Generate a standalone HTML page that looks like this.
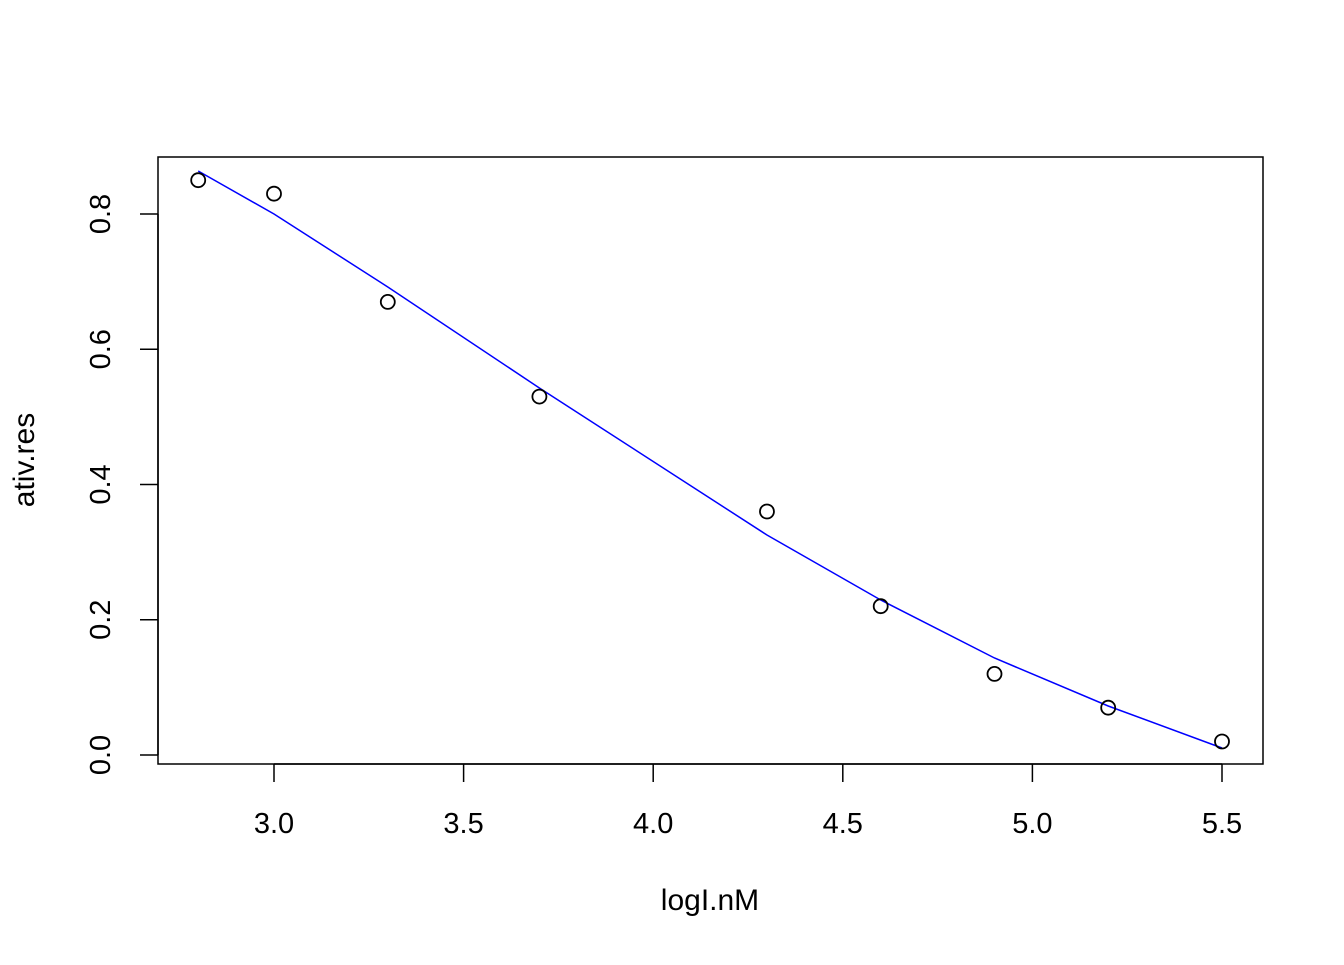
<!DOCTYPE html>
<html><head><meta charset="utf-8"><style>html,body{margin:0;padding:0;background:#fff}</style></head>
<body>
<svg width="1344" height="960" xmlns="http://www.w3.org/2000/svg" font-family="Liberation Sans, Arial, sans-serif">
<rect x="0" y="0" width="1344" height="960" fill="#fff"/>
<rect x="158" y="157" width="1105" height="607" fill="none" stroke="#000" stroke-width="1.5"/>
<g stroke="#000" stroke-width="1.5">
<line x1="274" y1="764" x2="1222" y2="764"/>
<line x1="274" y1="764" x2="274" y2="782"/>
<line x1="463.6" y1="764" x2="463.6" y2="782"/>
<line x1="653.2" y1="764" x2="653.2" y2="782"/>
<line x1="842.8" y1="764" x2="842.8" y2="782"/>
<line x1="1032.4" y1="764" x2="1032.4" y2="782"/>
<line x1="1222" y1="764" x2="1222" y2="782"/>
<line x1="158" y1="755" x2="158" y2="214"/>
<line x1="140" y1="755" x2="158" y2="755"/>
<line x1="140" y1="619.75" x2="158" y2="619.75"/>
<line x1="140" y1="484.5" x2="158" y2="484.5"/>
<line x1="140" y1="349.25" x2="158" y2="349.25"/>
<line x1="140" y1="214" x2="158" y2="214"/>
</g>
<g font-size="29" text-anchor="middle" fill="#000">
<text x="274" y="833">3.0</text>
<text x="463.6" y="833">3.5</text>
<text x="653.2" y="833">4.0</text>
<text x="842.8" y="833">4.5</text>
<text x="1032.4" y="833">5.0</text>
<text x="1222" y="833">5.5</text>
<text transform="translate(110,755) rotate(-90)">0.0</text>
<text transform="translate(110,619.75) rotate(-90)">0.2</text>
<text transform="translate(110,484.5) rotate(-90)">0.4</text>
<text transform="translate(110,349.25) rotate(-90)">0.6</text>
<text transform="translate(110,214) rotate(-90)">0.8</text>
</g>
<g font-size="30" text-anchor="middle" fill="#000">
<text x="710" y="910">logI.nM</text>
<text transform="translate(34,460) rotate(-90)">ativ.res</text>
</g>
<polyline fill="none" stroke="#0000ff" stroke-width="1.5" points="198.2,171 274,214 387.8,287 539.4,388 766.96,535 880.7,600 994.5,658 1108.2,706 1222,748"/>
<g fill="none" stroke="#000" stroke-width="1.8">
<circle cx="198.2" cy="180.2" r="7"/>
<circle cx="274" cy="193.7" r="7"/>
<circle cx="387.8" cy="301.9" r="7"/>
<circle cx="539.4" cy="396.6" r="7"/>
<circle cx="766.96" cy="511.5" r="7"/>
<circle cx="880.7" cy="606.2" r="7"/>
<circle cx="994.5" cy="673.9" r="7"/>
<circle cx="1108.2" cy="707.7" r="7"/>
<circle cx="1222" cy="741.5" r="7"/>
</g>
</svg>
</body></html>
